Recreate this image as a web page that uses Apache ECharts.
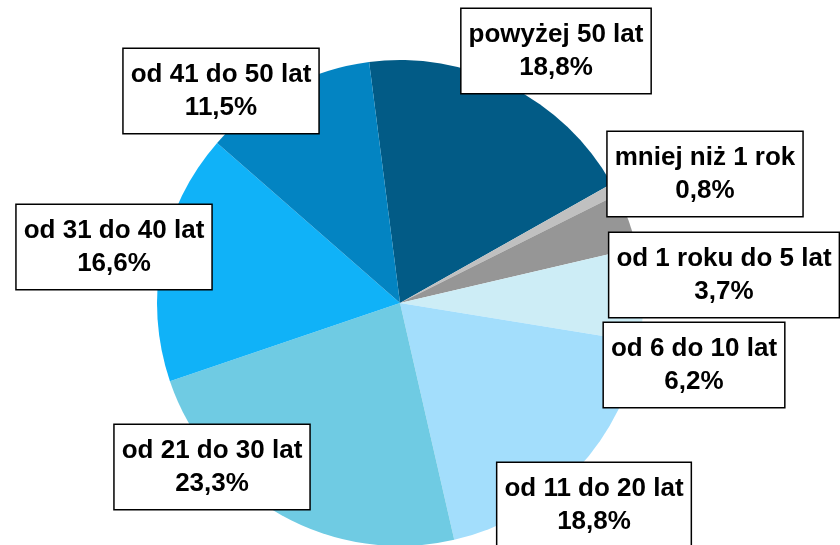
<!DOCTYPE html>
<html>
<head>
<meta charset="utf-8">
<script src="https://cdn.jsdelivr.net/npm/echarts@6/dist/echarts.min.js"></script>
<style>
	html, body { margin: 0; padding: 0; background: #ffffff; }
	#main { width: 840px; height: 545px; }
</style>
</head>
<body>
<div id="main"></div>
<script>
// age groups, clockwise from the top
const groups = ['powyżej 50 lat', 'mniej niż 1 rok', 'od 1 roku do 5 lat', 'od 6 do 10 lat', 'od 11 do 20 lat', 'od 21 do 30 lat', 'od 31 do 40 lat', 'od 41 do 50 lat'];
const shares = [18.8, 0.8, 3.7, 6.2, 18.8, 23.3, 16.6, 11.5];
const colors = ['#025B86', '#C0C0C0', '#969696', '#CDEDF6', '#A3DEFC', '#6FCBE3', '#10B2F8', '#0384C2'];

// label box centres (px)
const labelPos = [[556, 51], [705, 174], [724, 275], [694, 365], [594, 505], [212, 467], [114, 247], [221, 91]];

const myChart = echarts.init(document.getElementById('main'));

const option = {
	animation: false,
	series: [
		{
			type: 'pie',
			center: [400, 303],
			radius: 243,
			startAngle: 97.3,
			clockwise: true,
			avoidLabelOverlap: false,
			data: groups.map(function (name, i) {
				return { name: name, value: shares[i], itemStyle: { color: colors[i] } };
			}),
			labelLine: { show: false },
			label: {
				show: true,
				formatter: function (p) {
					return p.name + '\n' + p.value.toFixed(1).replace('.', ',') + '%';
				},
				fontFamily: 'Liberation Sans, Arial, sans-serif',
				fontWeight: 'bold',
				fontSize: 26,
				lineHeight: 33,
				color: '#000000',
				align: 'center',
				backgroundColor: '#ffffff',
				borderColor: '#000000',
				borderWidth: 1.5,
				padding: [9, 7, 9, 7]
			},
			labelLayout: function (params) {
				const pos = labelPos[params.dataIndex];
				return { x: pos[0], y: pos[1], align: 'center', verticalAlign: 'middle' };
			}
		}
	]
};
myChart.setOption(option);
</script>
</body>
</html>
